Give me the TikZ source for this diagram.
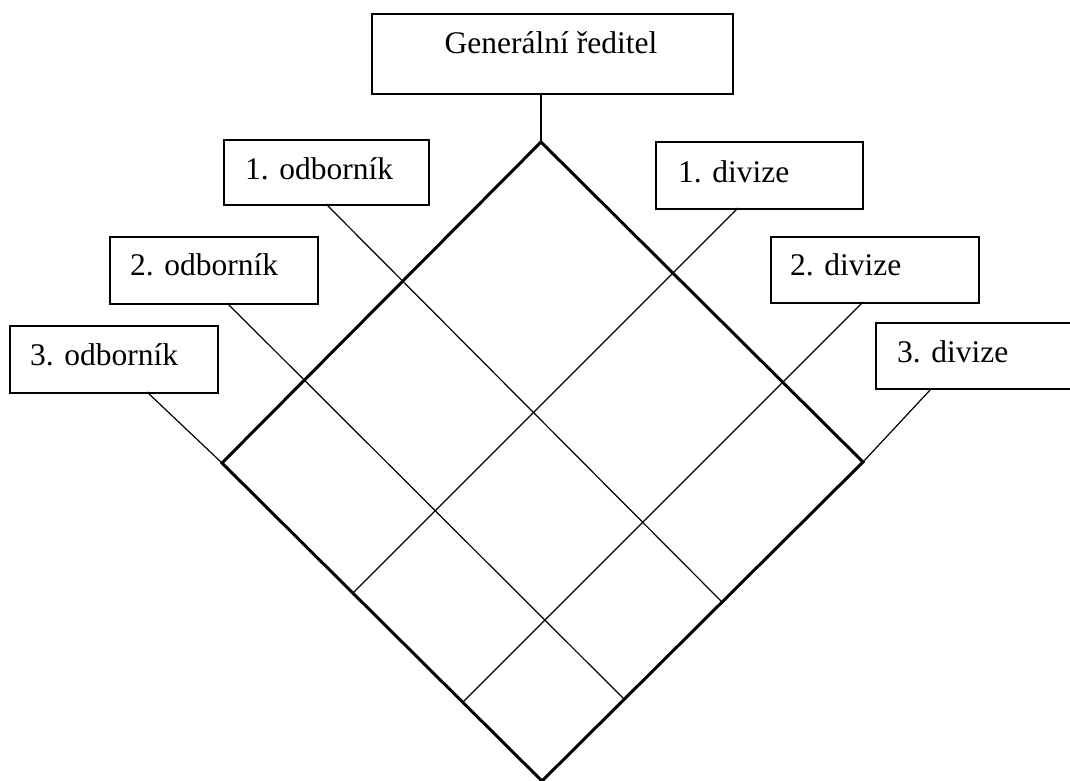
\documentclass[tikz,border=0pt]{standalone}
\usepackage{fontspec}
\setmainfont{Liberation Serif}
\begin{document}
\begin{tikzpicture}[x=1pt,y=-1pt,
  box/.style={draw,line width=2.4pt,rectangle,inner sep=0pt,anchor=north west},
  lbl/.style={anchor=base west,inner sep=0pt,font=\fontsize{31.5}{36}\selectfont},
  edge/.style={line width=3pt,line join=miter},
  grid/.style={line width=1.2pt},
  stem/.style={line width=1.8pt}]
\clip (0,0) rectangle (1070,780);
\fill[white] (0,0) rectangle (1070,780);

% boxes
\node[box,minimum width=361pt,minimum height=80pt] (gr) at (371,13) {};
\node[lbl,anchor=base] (grt) at (551,53) {Generální ředitel};

\node[box,minimum width=205pt,minimum height=65pt] (o1) at (223,139) {};
\node[lbl] (o1t) at (245,179) {1. odborník};
\node[box,minimum width=208pt,minimum height=67pt] (o2) at (109,236) {};
\node[lbl] (o2t) at (130,275) {2. odborník};
\node[box,minimum width=208pt,minimum height=67pt] (o3) at (9,325) {};
\node[lbl] (o3t) at (30,365) {3. odborník};

\node[box,minimum width=207pt,minimum height=67pt] (d1) at (655,141) {};
\node[lbl] (d1t) at (678,182) {1. divize};
\node[box,minimum width=208pt,minimum height=66pt] (d2) at (770,236) {};
\node[lbl] (d2t) at (790,275) {2. divize};
\node[box,minimum width=220pt,minimum height=66pt] (d3) at (875,322) {};
\node[lbl] (d3t) at (897,362) {3. divize};

% diamond corners
\coordinate (T) at (541,142);
\coordinate (L) at (222,463);
\coordinate (R) at (863,462);
\coordinate (B) at (542,781);

% line start points on the box bottoms
\coordinate (o1s) at (326,204);
\coordinate (o2s) at (227,303);
\coordinate (o3s) at (147,392);
\coordinate (d1s) at (738,208);
\coordinate (d2s) at (863,302);
\coordinate (d3s) at (931,389);

% line end points on the lower edges of the diamond
\coordinate (o1e) at (722,602);
\coordinate (o2e) at (625,700);
\coordinate (d1e) at (353,593);
\coordinate (d2e) at (463,702);

% thin connectors
\draw[grid] (o1s) -- (o1e);
\draw[grid] (o2s) -- (o2e);
\draw[grid] (o3s) -- (L);
\draw[grid] (d1s) -- (d1e);
\draw[grid] (d2s) -- (d2e);
\draw[grid] (d3s) -- (R);

% stem from the director
\draw[stem] (gr.south -| T) -- (T);

% diamond
\draw[edge] (T) -- (R) -- (B) -- (L) -- cycle;
\end{tikzpicture}
\end{document}
